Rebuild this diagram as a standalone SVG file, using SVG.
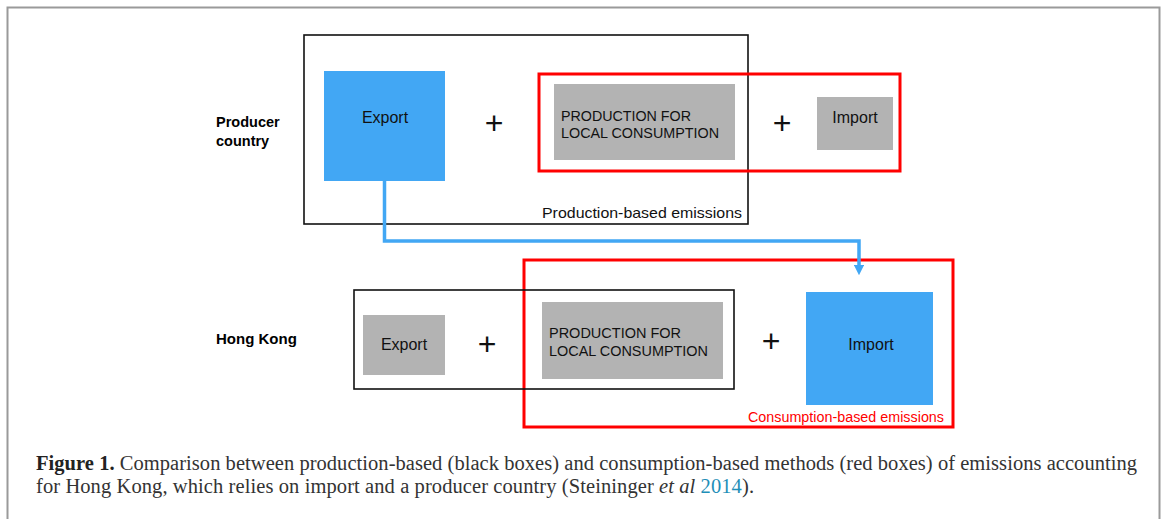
<svg xmlns="http://www.w3.org/2000/svg" width="1167" height="519" viewBox="0 0 1167 519">
<style>
.lbl{font-family:"Liberation Sans",Arial,sans-serif;fill:#111}
.side{font-family:"Liberation Sans",Arial,sans-serif;font-weight:bold;fill:#000}
.plus{font-family:"Liberation Sans",Arial,sans-serif;font-size:32px;fill:#111;text-anchor:middle}
.cap{font-family:"Liberation Serif","Times New Roman",serif;font-size:20.5px;fill:#333}
.blk{fill:none;stroke:#111;stroke-width:1.6}
.red{fill:none;stroke:#ff0000;stroke-width:3}
.blue{fill:#42a7f4}
.gray{fill:#b3b3b3}
</style>
<defs>
<marker id="ah" viewBox="0 0 10 10" refX="5" refY="5" markerWidth="3" markerHeight="3" orient="auto">
<path d="M0,0 L10,5 L0,10 z" fill="#42a7f4"/>
</marker>
</defs>
<rect x="7.5" y="7.5" width="1152" height="540" fill="#fff" stroke="#9a9a9a" stroke-width="2"/>

<g id="producer-label">
<text class="side" x="216" y="127" font-size="14.5">Producer</text>
<text class="side" x="216" y="146" font-size="14.5">country</text>
</g>
<g id="producer-production-box">
<rect class="blk" x="304" y="35" width="444" height="189"/>
<text class="lbl" x="542" y="218" font-size="15" textLength="200" lengthAdjust="spacingAndGlyphs">Production-based emissions</text>
</g>
<g id="producer-export">
<rect class="blue" x="324" y="71" width="121" height="110"/>
<text class="lbl" x="385" y="123" font-size="16" text-anchor="middle">Export</text>
</g>
<g id="plus1"><text class="plus" x="494" y="134">+</text></g>
<g id="producer-consumption-box">
<rect class="red" x="539" y="74" width="361" height="97"/>
</g>
<g id="producer-local">
<rect class="gray" x="554" y="84" width="181" height="76"/>
<text class="lbl" x="561" y="121" font-size="14" textLength="130" lengthAdjust="spacingAndGlyphs">PRODUCTION FOR</text>
<text class="lbl" x="561" y="138" font-size="14" textLength="158" lengthAdjust="spacingAndGlyphs">LOCAL CONSUMPTION</text>
</g>
<g id="plus2"><text class="plus" x="782" y="134">+</text></g>
<g id="producer-import">
<rect class="gray" x="817" y="97" width="76" height="53"/>
<text class="lbl" x="855" y="123" font-size="16" text-anchor="middle">Import</text>
</g>

<g id="hk-label">
<text class="side" x="216" y="344" font-size="15">Hong Kong</text>
</g>
<g id="hk-consumption-box">
<rect class="red" x="524" y="260" width="429" height="167"/>
<text x="748" y="422" font-size="14" textLength="196" lengthAdjust="spacingAndGlyphs" font-family="Liberation Sans,Arial,sans-serif" fill="#ff0000">Consumption-based emissions</text>
</g>
<g id="hk-production-box">
<rect class="blk" x="354" y="290" width="380" height="99"/>
</g>
<g id="hk-export">
<rect class="gray" x="363" y="315" width="82" height="60"/>
<text class="lbl" x="404" y="350" font-size="16" text-anchor="middle">Export</text>
</g>
<g id="plus3"><text class="plus" x="487" y="355">+</text></g>
<g id="hk-local">
<rect class="gray" x="542" y="302" width="181" height="77"/>
<text class="lbl" x="549" y="338" font-size="14" textLength="132" lengthAdjust="spacingAndGlyphs">PRODUCTION FOR</text>
<text class="lbl" x="549" y="356" font-size="14" textLength="159" lengthAdjust="spacingAndGlyphs">LOCAL CONSUMPTION</text>
</g>
<g id="plus4"><text class="plus" x="771" y="352">+</text></g>
<g id="hk-import">
<rect class="blue" x="806" y="292" width="127" height="113"/>
<text class="lbl" x="871" y="350" font-size="16" text-anchor="middle">Import</text>
</g>

<g id="connectors">
<path d="M384.5,181 V241 H859 V270" fill="none" stroke="#42a7f4" stroke-width="3.5" marker-end="url(#ah)"/>
</g>

<g id="caption">
<text class="cap" x="36" y="470" textLength="1101" lengthAdjust="spacing"><tspan font-weight="bold" fill="#222">Figure 1.</tspan> Comparison between production-based (black boxes) and consumption-based methods (red boxes) of emissions accounting</text>
<text class="cap" x="36" y="493" textLength="718" lengthAdjust="spacing">for Hong Kong, which relies on import and a producer country (Steininger <tspan font-style="italic">et al</tspan> <tspan fill="#1f8fb8">2014</tspan>).</text>
</g>
</svg>
